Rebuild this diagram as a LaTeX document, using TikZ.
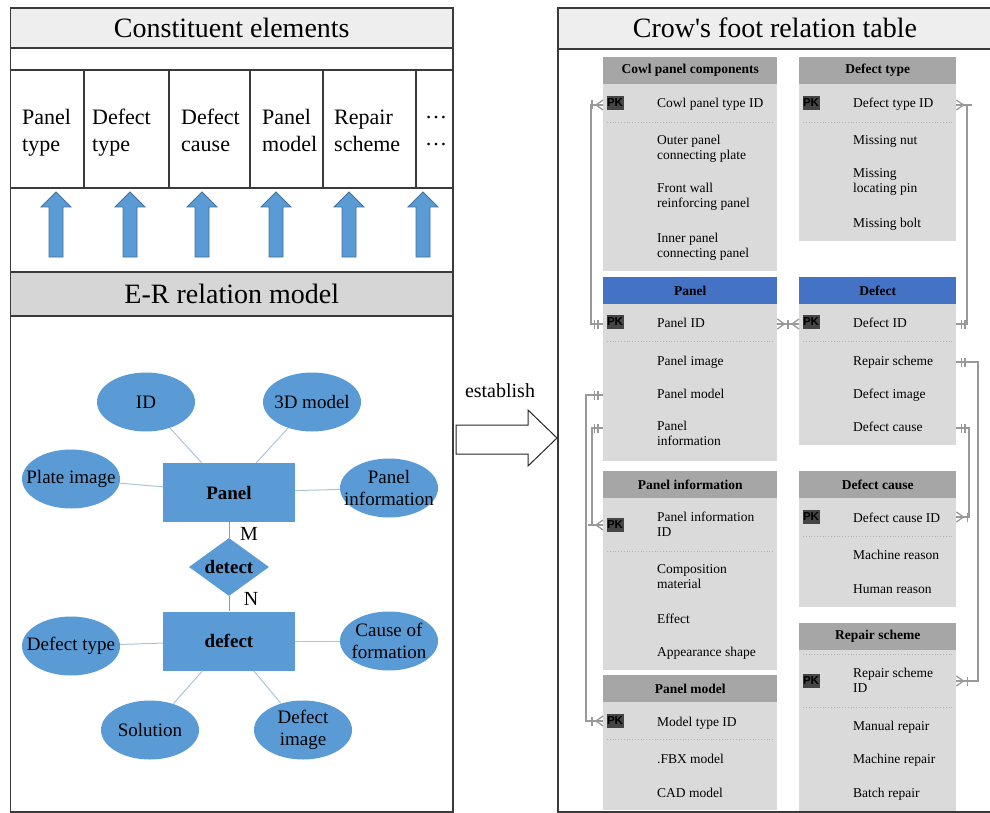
\documentclass[tikz,border=0pt]{standalone}
\usepackage{fontspec}
\setmainfont{Liberation Serif}
\setsansfont{Liberation Sans}
\usetikzlibrary{positioning,shapes.geometric,decorations.markings}
\definecolor{erblue}{HTML}{5B9BD5}
\definecolor{erdark}{HTML}{41719C}
\definecolor{erlink}{HTML}{AFC3D8}
\definecolor{framegray}{HTML}{3A3A3A}
\definecolor{barlight}{HTML}{EEEEEE}
\definecolor{bardark}{HTML}{D6D6D6}
\definecolor{headgray}{HTML}{A6A6A6}
\definecolor{bodygray}{HTML}{DADADA}
\definecolor{headblue}{HTML}{4472C4}
\definecolor{linkgray}{HTML}{999999}
\definecolor{pkgray}{HTML}{454545}

\begin{document}
\begin{tikzpicture}
	[x=1pt, y=-1pt,
	frame/.style={draw=framegray, line width=1.3pt},
	bartitle/.style={inner sep=0pt, font=\fontsize{28}{30}\selectfont},
	cellitem/.style={anchor=west, align=left, inner sep=0pt, yshift=-2.5pt, font=\fontsize{22}{27}\selectfont, execute at begin node=\strut, execute at end node=\strut},
	attr/.style={ellipse, fill=erblue, minimum width=98pt, minimum height=59pt, inner xsep=-12pt, inner ysep=-4pt, align=center, font=\fontsize{19}{22}\selectfont},
	entity/.style={rectangle, fill=erblue, minimum width=132pt, minimum height=59pt, font=\bfseries\fontsize{19}{22}\selectfont},
	relation/.style={diamond, fill=erblue, aspect=1.4, minimum width=80pt, minimum height=58pt, inner sep=0pt, font=\bfseries\fontsize{19}{22}\selectfont},
	attrlink/.style={draw=erlink, line width=1pt},
	rellink/.style={draw=linkgray, line width=1pt},
	cardinal/.style={inner sep=0pt, font=\fontsize{20}{22}\selectfont},
	tabhead/.style={fill=headgray, anchor=north west, minimum height=26.5pt, inner sep=0pt, font=\bfseries\fontsize{13.5}{15}\selectfont},
	tabbody/.style={fill=bodygray, inner sep=0pt},
	field/.style={anchor=west, align=left, inner sep=0pt, yshift=-2pt, font=\fontsize{13.5}{15}\selectfont, execute at begin node=\strut, execute at end node=\strut},
	pk/.style={fill=pkgray, minimum width=17pt, minimum height=14pt, inner sep=0pt, font=\sffamily\bfseries\fontsize{11.5}{12}\selectfont},
	divider/.style={draw=black!30, dotted, line width=0.8pt},
	keylink/.style={draw=linkgray, line width=2pt},
	tick/.style={line width=1.3pt},
	bars/.style={postaction={decorate, decoration={markings,
		mark=at position 5pt with {\draw[tick] (0pt,-4.5pt) -- (0pt,4.5pt);},
		mark=at position 8.5pt with {\draw[tick] (0pt,-4.5pt) -- (0pt,4.5pt);}}}},
	crow/.style={postaction={decorate, decoration={markings,
		mark=at position -11pt with {\draw[tick] (0pt,-4.5pt) -- (0pt,4.5pt);},
		mark=at position -0.01pt with {\draw[tick] (-7pt,0pt) -- (0pt,5pt) (-7pt,0pt) -- (0pt,-5pt);}}}},
	crowback/.style={postaction={decorate, decoration={markings,
		mark=at position 11pt with {\draw[tick] (0pt,-4.5pt) -- (0pt,4.5pt);},
		mark=at position 0.01pt with {\draw[tick] (7pt,0pt) -- (0pt,5pt) (7pt,0pt) -- (0pt,-5pt);}}}}]
	\useasboundingbox (0,0) rectangle (990,813);

	\draw[frame] (10.5,8) rectangle (453,812);
	\draw[frame, fill=barlight] (10.5,8) rectangle (453,48);
	\node[bartitle] (consttitle) at (231.75,28) {Constituent elements};
	\draw[frame] (10.5,70) -- (453,70) (10.5,188) -- (453,188);
	\foreach \x in {84,169,250,323,416}
		\draw[frame] (\x,70) -- (\x,188);
	\node[cellitem] (elpanel) at (22,132) {Panel\\type};
	\node[cellitem] (eldefect) at (92,132) {Defect\\type};
	\node[cellitem] (elcause) at (181,132) {Defect\\cause};
	\node[cellitem] (elmodel) at (262,132) {Panel\\model};
	\node[cellitem] (elrepair) at (334,132) {Repair\\scheme};
	\node[cellitem] (elmore) at (425,132) {…\\…};
	\foreach \x in {56,130,202,276,349,423}
		\filldraw[fill=erblue, draw=erdark, line width=0.8pt] (\x-7,257) -- (\x-7,207) -- (\x-15,207) -- (\x,192) -- (\x+15,207) -- (\x+7,207) -- (\x+7,257) -- cycle;
	\draw[frame, fill=bardark] (10.5,272) rectangle (453,316);
	\node[bartitle] (ertitle) at (231.75,294) {E-R relation model};

	\node[entity] (panel) at (229,492.5) {Panel};
	\node[relation] (detect) at (229,567) {detect};
	\node[entity] (defect) at (229,641) {defect};
	\node[attr] (id) at (146,402) {ID};
	\node[attr] (model3d) at (312,402) {3D model};
	\node[attr] (plateimage) at (71,479) {Plate image};
	\node[attr] (panelinfo) at (389,488) {Panel\\information};
	\node[attr] (defecttype) at (71,646) {Defect type};
	\node[attr] (formation) at (389,641) {Cause of\\formation};
	\node[attr] (solution) at (150,730) {Solution};
	\node[attr] (defectimage) at (303,730) {Defect\\image};
	\foreach \a in {id,model3d,plateimage,panelinfo}
		\draw[attrlink] (\a) -- (panel);
	\foreach \a in {defecttype,formation,solution,defectimage}
		\draw[attrlink] (\a) -- (defect);
	\draw[rellink] (panel) -- (detect) -- (defect);
	\node[cardinal] (mlabel) at (249,534) {M};
	\node[cardinal] (nlabel) at (251,599) {N};

	\node[font=\fontsize{20}{22}\selectfont] (establish) at (500,391) {establish};
	\draw[line width=1pt, draw=black!85] (456,425) -- (528,425) -- (528,410) -- (557,438) -- (528,466) -- (528,454) -- (456,454) -- cycle;

	\fill[barlight] (558,8) rectangle (990,49);
	\draw[frame] (990,8) -- (558,8) -- (558,812) -- (990,812);
	\draw[frame] (558,49) -- (990,49);
	\node[bartitle] (crowtitle) at (775,28) {Crow\textquotesingle s foot relation table};

	\node[tabhead, minimum width=174pt] (cowlhead) at (603,57) {Cowl panel components};
	\node[tabbody, minimum width=174pt, minimum height=186.5pt, below=0pt of cowlhead] (cowl) {};
	\node[pk] (cowlpk) at (615,103) {PK};
	\node[field] (cowlid) at (657,103) {Cowl panel type ID};
	\draw[divider] (607,122) -- (773,122);
	\node[field] (outerplate) at (657,147.5) {Outer panel\\connecting plate};
	\node[field] (frontwall) at (657,195.5) {Front wall\\reinforcing panel};
	\node[field] (innerpanel) at (657,245.5) {Inner panel\\connecting panel};

	\node[tabhead, minimum width=157pt] (dtypehead) at (799,57) {Defect type};
	\node[tabbody, minimum width=157pt, minimum height=156.5pt, below=0pt of dtypehead] (dtype) {};
	\node[pk] (dtypepk) at (811,103) {PK};
	\node[field] (dtypeid) at (853,103) {Defect type ID};
	\draw[divider] (803,122) -- (953,122);
	\node[field] (nut) at (853,140) {Missing nut};
	\node[field] (pin) at (853,180.5) {Missing\\locating pin};
	\node[field] (bolt) at (853,222) {Missing bolt};

	\node[tabhead, fill=headblue, minimum width=174pt] (panelhead) at (603,277) {Panel};
	\node[tabbody, minimum width=174pt, minimum height=156.5pt, below=0pt of panelhead] (paneltab) {};
	\node[pk] (panelpk) at (615,322) {PK};
	\node[field] (panelid) at (657,322) {Panel ID};
	\draw[divider] (607,341) -- (773,341);
	\node[field] (panelimage) at (657,360) {Panel image};
	\node[field] (panelmodel) at (657,393) {Panel model};
	\node[field] (panelinformation) at (657,433.5) {Panel\\information};

	\node[tabhead, fill=headblue, minimum width=157pt] (defecthead) at (799,277) {Defect};
	\node[tabbody, minimum width=157pt, minimum height=140.5pt, below=0pt of defecthead] (defecttab) {};
	\node[pk] (defectpk) at (811,322) {PK};
	\node[field] (defectid) at (853,322) {Defect ID};
	\draw[divider] (803,341) -- (953,341);
	\node[field] (repair) at (853,360) {Repair scheme};
	\node[field] (defimage) at (853,393) {Defect image};
	\node[field] (cause) at (853,426) {Defect cause};

	\node[tabhead, minimum width=174pt] (pinfohead) at (603,471) {Panel information};
	\node[tabbody, minimum width=174pt, minimum height=171.5pt, below=0pt of pinfohead] (pinfotab) {};
	\node[pk] (pinfopk) at (615,525) {PK};
	\node[field] (pinfoid) at (657,524.5) {Panel information\\ID};
	\draw[divider] (607,551) -- (773,551);
	\node[field] (material) at (657,577) {Composition\\material};
	\node[field] (effect) at (657,618) {Effect};
	\node[field] (shape) at (657,651) {Appearance shape};

	\node[tabhead, minimum width=157pt] (dcausehead) at (799,471) {Defect cause};
	\node[tabbody, minimum width=157pt, minimum height=108.5pt, below=0pt of dcausehead] (dcausetab) {};
	\node[pk] (dcausepk) at (811,517) {PK};
	\node[field] (dcauseid) at (853,517) {Defect cause ID};
	\draw[divider] (803,536) -- (953,536);
	\node[field] (machinereason) at (853,554) {Machine reason};
	\node[field] (humanreason) at (853,588) {Human reason};

	\node[tabhead, minimum width=157pt] (rschemehead) at (799,623) {Repair scheme};
	\node[tabbody, minimum width=157pt, minimum height=160.5pt, below=0pt of rschemehead] (rschemetab) {};
	\draw[divider] (803,654) -- (953,654);
	\node[pk] (rschemepk) at (811,681) {PK};
	\node[field] (rschemeid) at (853,680.5) {Repair scheme\\ID};
	\draw[divider] (803,707) -- (953,707);
	\node[field] (manual) at (853,725) {Manual repair};
	\node[field] (machine) at (853,758) {Machine repair};
	\node[field] (batch) at (853,792) {Batch repair};

	\node[tabhead, minimum width=174pt] (pmodelhead) at (603,675) {Panel model};
	\node[tabbody, minimum width=174pt, minimum height=107.5pt, below=0pt of pmodelhead] (pmodeltab) {};
	\node[pk] (pmodelpk) at (615,721) {PK};
	\node[field] (modelid) at (657,721) {Model type ID};
	\draw[divider] (607,739) -- (773,739);
	\node[field] (fbx) at (657,758) {.FBX model};
	\node[field] (cad) at (657,792) {CAD model};

	\draw[keylink, bars, crow] (paneltab.west |- panelid) -- ++(-12,0) |- (cowl.west |- cowlid);
	\draw[keylink, bars, crow] (defecttab.east |- defectid) -- ++(11,0) |- (dtype.east |- dtypeid);
	\draw[keylink, crowback, crow] (paneltab.east |- panelid) -- (defecttab.west |- defectid);
	\draw[keylink, bars, crow] (paneltab.west |- panelmodel) -- ++(-17,0) |- (pmodeltab.west |- pmodelpk);
	\draw[keylink, bars, crow] ([yshift=7.5pt]paneltab.west |- panelinformation) -- ++(-11,0) |- (pinfotab.west |- pinfopk);
	\draw[keylink, bars, crow] (defecttab.east |- repair) -- ++(22,0) |- (rschemetab.east |- rschemepk);
	\draw[keylink, bars, crow] (defecttab.east |- cause) -- ++(13,0) |- (dcausetab.east |- dcausepk);
\end{tikzpicture}
\end{document}
